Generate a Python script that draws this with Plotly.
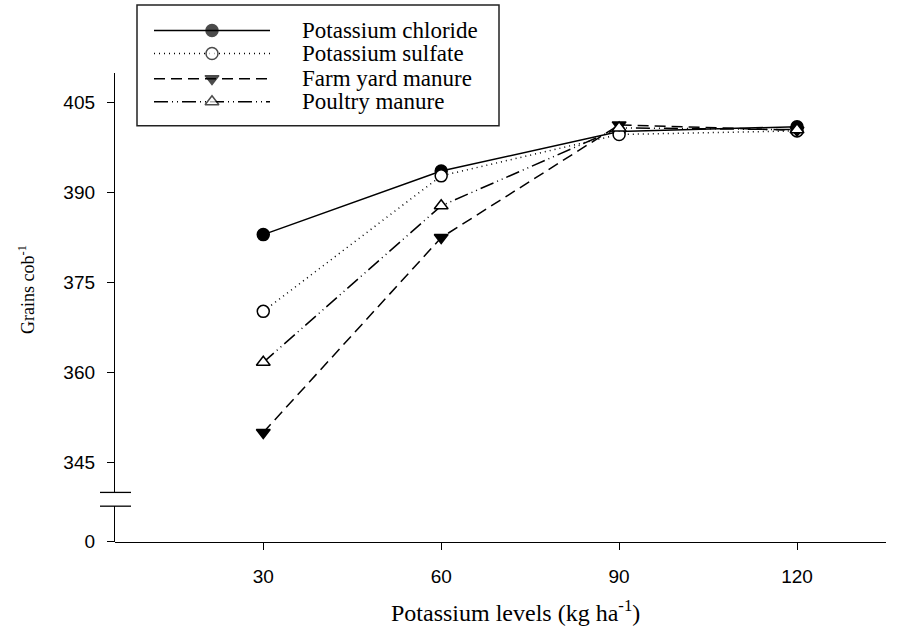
import plotly.graph_objects as go

# ---- data ----
k_levels = [30, 60, 90, 120]
potassium_chloride = [383.0, 393.6, 400.2, 401.0]
potassium_sulfate = [370.2, 392.8, 399.7, 400.3]
farm_yard_manure = [350.0, 382.5, 401.3, 400.4]
poultry_manure = [361.7, 387.8, 400.8, 400.5]
series_names = ["Potassium chloride", "Potassium sulfate", "Farm yard manure", "Poultry manure"]
y_upper_ticks = [345, 360, 375, 390, 405]
y_lower_ticks = [0]

W, H = 906, 642
def px(x):
    return x / W
def py(y):
    return 1 - y / H

styles = [
    dict(dash="solid", symbol="circle", fill="black"),
    dict(dash="1px,4px", symbol="circle", fill="white"),
    dict(dash="11px,6px", symbol="triangle-down", fill="black"),
    dict(dash="14px,4px,1px,4px,1px,4px", symbol="triangle-up", fill="white"),
]
values = [potassium_chloride, potassium_sulfate, farm_yard_manure, poultry_manure]

fig = go.Figure()
for name, vals, st in zip(series_names, values, styles):
    fig.add_trace(go.Scatter(
        x=k_levels, y=vals, name=name, mode="lines+markers",
        xaxis="x", yaxis="y", showlegend=False, cliponaxis=False,
        line=dict(color="black", width=1.5, dash=st["dash"]),
        marker=dict(symbol=st["symbol"], size=12, color=st["fill"],
                    line=dict(color="black", width=1.5)),
    ))

# empty trace so the lower (broken) axis segment is rendered
fig.add_trace(go.Scatter(x=[], y=[], xaxis="x", yaxis="y2", showlegend=False,
                         hoverinfo="skip"))

# ---- custom legend (samples on a hidden pixel-space axis) ----
leg_rows = [31, 54.5, 80, 103.5]
for name, st, ry in zip(series_names, styles, leg_rows):
    fig.add_trace(go.Scatter(
        x=[154, 212, 270], y=[ry, ry, ry], mode="lines+markers",
        xaxis="x3", yaxis="y3", showlegend=False, hoverinfo="skip",
        line=dict(color="black", width=1.5, dash=st["dash"]),
        marker=dict(symbol=st["symbol"], size=[0, 12, 0], color=st["fill"],
                    line=dict(color="black", width=[0, 1.5, 0])),
    ))

annotations = []
for name, ry in zip(series_names, leg_rows):
    annotations.append(dict(
        x=px(300), y=py(ry), xref="paper", yref="paper", text=name,
        showarrow=False, xanchor="left", yanchor="middle",
        font=dict(family="Liberation Serif", size=23, color="black")))

annotations.append(dict(
    x=px(515), y=py(622), xref="paper", yref="paper",
    text="Potassium levels (kg ha<sup>-1</sup>)", showarrow=False,
    xanchor="center", yanchor="middle",
    font=dict(family="Liberation Serif", size=24, color="black")))
annotations.append(dict(
    x=px(27), y=py(295), xref="paper", yref="paper",
    text="Grains cob<sup>-1</sup>", showarrow=False, textangle=-90,
    xanchor="center", yanchor="middle",
    font=dict(family="Liberation Serif", size=18, color="black")))

shapes = [
    dict(type="rect", xref="paper", yref="paper",
         x0=px(137), x1=px(499), y0=py(128), y1=py(5),
         line=dict(color="#222", width=1.5), fillcolor="rgba(0,0,0,0)"),
    dict(type="line", xref="paper", yref="paper",
         x0=px(100), x1=px(131), y0=py(501), y1=py(501),
         line=dict(color="black", width=1.3)),
    dict(type="line", xref="paper", yref="paper",
         x0=px(100), x1=px(131), y0=py(515), y1=py(515),
         line=dict(color="black", width=1.3)),
]

tickfont = dict(family="Liberation Sans", size=19, color="black")
axis_common = dict(showline=True, linecolor="black", linewidth=1.3, ticks="outside",
                   ticklen=7, tickwidth=1.3, tickcolor="black", showgrid=False,
                   zeroline=False, tickfont=tickfont, fixedrange=True)

fig.update_layout(
    width=W, height=H,
    margin=dict(l=0, r=0, t=0, b=0),
    paper_bgcolor="white", plot_bgcolor="rgba(0,0,0,0)",
    showlegend=False,
    xaxis=dict(domain=[px(115), px(886)], range=[5, 135], tickvals=k_levels,
               anchor="free", position=py(551), ticklabelstandoff=10, **axis_common),
    yaxis=dict(domain=[py(501), py(74)], range=[340, 410], tickvals=y_upper_ticks,
               anchor="x", ticklabelstandoff=8, **axis_common),
    yaxis2=dict(domain=[py(551), py(515)], range=[0, 10], tickvals=y_lower_ticks,
                anchor="x", ticklabelstandoff=8, **axis_common),
    xaxis3=dict(domain=[0, 1], range=[0, W], visible=False, anchor="y3", fixedrange=True),
    yaxis3=dict(domain=[0, 1], range=[H, 0], visible=False, anchor="x3", fixedrange=True),
    annotations=annotations,
    shapes=shapes,
)

fig.write_html("out.html")
